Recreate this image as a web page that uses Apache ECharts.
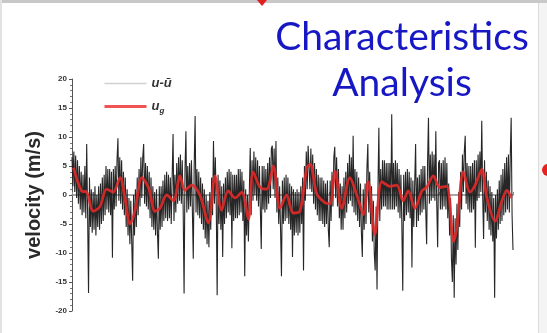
<!DOCTYPE html>
<html>
<head>
<meta charset="utf-8">
<script src="https://cdn.jsdelivr.net/npm/echarts@6/dist/echarts.min.js"></script>
<style>html,body{margin:0;padding:0;background:#fff;}#c{width:547px;height:333px;}</style>
</head>
<body>
<div id="c"></div>
<script>
// ---- data ----
const titleText = 'Characteristics\nAnalysis';
const yTicks = [-20, -15, -10, -5, 0, 5, 10, 15, 20];
const sampleStep = 0.025; // time units between fluctuation samples
// u - ū : fluctuating velocity (m/s)
const fluctVals = [
  6.5, 1.5, 7.5, 0.5, 6.8, -0.5, 6.0, -1.5, 5.0, -2.5, 4.0, -3.5, 3.5, -3.0, 5.0, -4.0, 8.8, -3.5, -16.9, 3.0,
  -5.5, 1.0, -6.5, 0.5, -6.0, 1.5, -7.0, 0.0, -5.5, 1.5, -6.0, 2.0, -5.0, 3.0, -4.5, 3.5, -3.5, 5.0, -2.5, 4.5,
  -3.0, 4.5, -3.5, 4.0, -10.8, 4.5, -2.5, 5.0, -2.0, 6.0, 9.8, -1.0, 6.5, -1.5, 6.0, -2.5, 4.0, -3.5, 3.0, -5.5,
  1.0, -7.0, -0.5, -8.5, -1.0, -8.0, -14.8, 0.0, -7.0, 1.0, -5.5, 3.0, -3.5, 4.5, -2.0, 6.5, -0.5, 6.5, 8.8, -1.5,
  5.5, -2.0, 5.0, -2.5, 4.0, -4.0, 3.0, -5.5, 1.5, -6.0, 0.5, -7.0, 1.0, -6.5, -11.0, 1.5, -6.0, 1.5, -5.5, 2.5,
  -4.5, 3.5, -4.0, 4.0, -4.5, 3.5, -4.0, 3.0, -5.0, 3.0, 10.5, -4.5, 3.5, -3.0, 5.5, -1.5, 6.5, -1.0, 7.0, -1.5,
  6.0, -2.5, -17.0, 4.5, 11.0, -3.0, 5.0, -2.5, 5.5, -2.0, 6.0, -2.5, -11.0, 5.0, 13.6, -3.0, 4.5, -3.5, 4.0, -4.0,
  3.0, -5.0, 2.0, -6.0, 1.0, -7.5, 0.0, -8.5, -1.0, -9.0, 0.5, -6.0, 3.0, -3.5, 9.3, -1.5, 6.5, -1.5, -17.3, 3.5,
  -5.0, 2.5, -6.0, 1.5, -10.7, 2.0, -5.0, 3.0, -4.0, 4.0, -3.0, 4.5, -3.5, 4.0, -9.2, 3.5, -4.5, 3.5, -4.0, 3.5,
  -4.0, 4.5, -3.5, 4.5, -3.0, 4.0, -4.5, 2.5, -14.0, 1.0, -7.0, 0.0, -8.0, 0.5, 8.1, -3.5, 6.0, -1.0, 7.5, 0.0,
  6.5, -1.0, 6.0, -2.0, 5.0, -2.5, -9.3, 5.0, -2.5, 5.0, -3.0, 4.5, -2.5, 5.5, -1.5, 6.5, -0.5, 8.0, 8.5, 1.0,
  8.0, -0.5, 9.3, -3.0, 3.0, -5.0, 1.5, -6.0, -14.0, 2.5, -5.0, 3.0, -4.5, 3.5, -4.0, 3.0, -5.0, 2.0, -6.0, 1.5,
  -10.7, 1.0, -7.0, 0.5, -6.5, 1.0, -7.0, 0.5, -6.5, 1.5, -5.0, 3.0, -13.0, 5.0, -1.0, 7.5, 1.0, 8.5, 8.8, 1.0,
  8.0, 0.5, 7.0, -1.5, 5.5, -2.5, 4.5, -3.5, 3.5, -4.5, 3.0, -4.5, 3.0, -5.0, 2.5, -5.5, 2.0, -5.0, 2.5, -6.0,
  -9.0, 2.5, -4.5, 4.0, -2.0, 6.5, 8.3, -0.5, 6.5, -2.0, 4.5, -4.0, 2.0, -6.0, 1.5, -6.0, 3.0, -4.0, 4.0, -3.0,
  5.5, -1.5, 7.0, -1.0, 6.5, -2.0, 10.2, -3.0, 4.5, -3.5, 4.0, -4.5, 3.0, -5.5, 2.0, -6.5, -10.7, 1.0, -6.0, 2.0,
  -5.0, 4.5, 8.8, -3.0, 4.0, -5.0, 1.5, -8.0, -1.0, -10.0, -13.0, -2.0, -16.3, 1.0, 11.6, -4.5, 4.5, -2.5, 6.0, -2.0,
  6.0, -2.0, 5.5, -2.5, 5.5, -2.5, 5.5, -2.5, 13.9, -2.5, 5.5, -2.5, 6.0, -2.0, 5.5, -3.0, 4.5, -4.0, 3.5, -5.0,
  -16.5, 3.5, -4.5, 4.0, -3.5, 4.5, -3.0, 4.0, -4.0, 3.0, -12.5, 2.5, -5.5, 2.0, 8.8, -5.5, 3.0, -4.5, 3.5, -3.5,
  4.5, -3.0, 5.0, -2.5, 5.0, -2.5, -8.5, 5.5, 13.3, -1.5, 7.0, -1.0, 7.5, -0.5, 7.0, -1.0, 11.0, -1.5, -9.0, 5.5,
  6.0, -2.5, 5.5, -2.5, 6.0, -2.0, 6.5, -2.5, 5.5, -4.0, 2.0, -7.0, -0.5, -11.0, -15.0, -3.5, -17.7, -4.0, -12.0, -1.5,
  -9.5, 0.5, -5.5, 4.0, -2.5, 7.0, 0.5, 7.5, 10.2, -1.5, 5.5, -2.5, 5.0, -3.0, 5.0, -3.0, 5.5, -2.5, 6.0, -9.1,
  6.0, -1.0, 7.0, -0.5, 7.5, 0.5, 12.8, 0.0, -7.6, 6.0, -3.0, 4.0, -4.5, 2.5, -6.0, 1.5, -7.0, 0.5, -8.0, -0.5,
  -17.7, 0.0, -7.5, 1.0, -6.0, 2.5, -5.0, 3.5, -4.5, 4.5, -3.5, 5.5, -3.0, 6.5, -2.5, 7.0, -3.0, 6.5, 13.3, -3.5,
  -9.5
];
// u_g : filtered velocity, times and values
const gustT = [0.04, 0.26, 0.40, 0.58, 0.76, 0.94, 1.12, 1.31, 1.44, 1.58, 1.71, 1.90, 2.08, 2.26, 2.39, 2.58, 2.76, 2.94, 3.07, 3.26,
  3.48, 3.71, 3.89, 4.07, 4.25, 4.44, 4.62, 4.80, 4.93, 5.12, 5.30, 5.48, 5.66, 5.84, 6.02, 6.20, 6.39, 6.48, 6.66, 6.88,
  7.02, 7.16, 7.34, 7.56, 7.75, 7.93, 8.06, 8.24, 8.43, 8.65, 8.84, 9.01, 9.15, 9.33, 9.52, 9.65, 9.83, 10.01, 10.20, 10.38,
  10.47, 10.65, 10.83, 10.97, 11.15, 11.29, 11.51, 11.70, 11.83, 11.96];
const gustV = [4.7, 0.7, 0.5, -2.8, -2.0, 1.0, 0.5, 3.0, -0.5, -5.0, -2.8, 3.0, 1.3, -2.8, -2.3, 0.0, -1.0, 3.3, 0.8, 1.7,
  0.0, -4.8, 3.3, -2.6, 0.7, -0.5, 0.5, -4.2, 4.0, 1.3, 1.0, 5.0, -2.3, 0.0, -3.1, -2.8, 4.7, 5.3, 0.2, -1.3,
  -1.5, 4.1, -2.3, 3.0, 0.0, -3.4, 2.3, -6.8, 2.3, 1.5, 1.7, -1.0, 0.7, -2.3, 0.7, 1.3, 3.3, 1.3, 1.5, -8.0,
  -5.7, 4.0, 0.5, 1.7, 4.4, -0.5, -4.5, -1.0, 0.8, -0.5];
const seriesNames = ['u-\u016B', 'u_g'];

const fluctData = fluctVals.map((v, i) => [i * sampleStep, v]);
const gustData = gustT.map((t, i) => [t, gustV[i]]);

const chart = echarts.init(document.getElementById('c'), null, {renderer: 'canvas'});
chart.setOption({
  backgroundColor: '#ffffff',
  animation: false,
  graphic: [
    {type: 'rect', shape: {x: 0, y: 0, width: 547, height: 3}, style: {fill: '#c8c8c8'}, silent: true},
    {type: 'rect', shape: {x: 0, y: 0, width: 2, height: 333}, style: {fill: '#e2e2e2'}, silent: true},
    {type: 'rect', shape: {x: 538, y: 3, width: 9, height: 330}, style: {fill: '#f4f4f4'}, silent: true},
    {type: 'rect', shape: {x: 538, y: 3, width: 1, height: 330}, style: {fill: '#dcdcdc'}, silent: true},
    {type: 'circle', shape: {cx: 548, cy: 170, r: 6}, style: {fill: '#e8201e'}, silent: true},
    {type: 'polygon', shape: {points: [[257, 0], [267, 0], [262, 6]]}, style: {fill: '#e02020'}, silent: true}
  ],
  title: {
    text: titleText,
    left: 397,
    top: 9,
    textAlign: 'center',
    textStyle: {fontFamily: 'Lato', fontWeight: 'normal', fontSize: 39, lineHeight: 46, color: '#1717c4'}
  },
  legend: {
    orient: 'vertical',
    left: 98,
    top: 72,
    itemWidth: 42,
    itemHeight: 14,
    itemGap: 10,
    data: [
      {name: seriesNames[0], itemStyle: {opacity: 0}, lineStyle: {color: '#cfcfcf', width: 1.5}},
      {name: seriesNames[1], itemStyle: {opacity: 0}, lineStyle: {color: '#ee3b3b', width: 3}}
    ],
    formatter: function (n) {
      if (n === 'u_g') return '{m|u}{s|g}';
      return '{m|' + n + '}';
    },
    textStyle: {
      rich: {
        m: {fontFamily: 'Liberation Sans', fontStyle: 'italic', fontWeight: 'bold', fontSize: 13, color: '#333'},
        s: {fontFamily: 'Liberation Sans', fontStyle: 'italic', fontWeight: 'bold', fontSize: 8, color: '#333', verticalAlign: 'bottom', padding: [8, 0, 0, 0]}
      }
    }
  },
  grid: {left: 72, right: 34, top: 79, bottom: 22, containLabel: false},
  xAxis: {
    type: 'value', min: 0, max: 12, interval: 1,
    axisLine: {show: true, lineStyle: {color: '#8a8a8a', width: 1.5}},
    axisTick: {show: true, inside: true, length: 3, lineStyle: {color: '#8a8a8a'}},
    axisLabel: {show: false},
    splitLine: {show: false}
  },
  yAxis: {
    type: 'value', min: -20, max: 20, interval: 5,
    name: 'velocity (m/s)',
    nameLocation: 'middle',
    nameGap: 28,
    nameTextStyle: {fontFamily: 'Liberation Sans', fontWeight: 'bold', fontSize: 20, color: '#2a2a2a'},
    axisLine: {show: true, lineStyle: {color: '#555', width: 1}},
    axisTick: {show: true, length: 3, lineStyle: {color: '#555'}},
    minorTick: {show: true, splitNumber: 5, length: 2, lineStyle: {color: '#777'}},
    axisLabel: {
      margin: 5, fontFamily: 'Liberation Sans', fontWeight: 'bold', fontSize: 8, color: '#333',
      formatter: function (v) { return yTicks.indexOf(v) >= 0 ? String(v) : ''; }
    },
    splitLine: {show: false}
  },
  series: [
    {
      name: seriesNames[0], type: 'line', data: fluctData, symbol: 'none', showSymbol: false,
      lineStyle: {color: '#1a1a1a', width: 1.1, opacity: 0.95}, itemStyle: {color: '#1a1a1a'}, z: 2
    },
    {
      name: seriesNames[1], type: 'line', data: gustData, symbol: 'none', showSymbol: false, smooth: 0.3,
      lineStyle: {color: '#e52a2a', width: 2.8, opacity: 0.88}, itemStyle: {color: '#e52a2a'}, z: 3
    }
  ]
});
</script>
</body>
</html>
